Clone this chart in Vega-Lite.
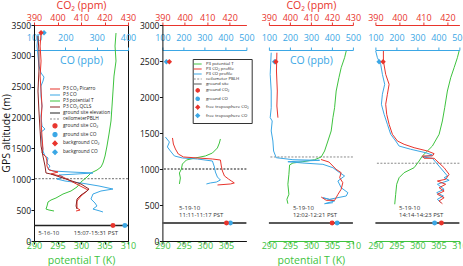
{
  "$schema": "https://vega.github.io/schema/vega-lite/v6.json",
  "background": "white",
  "padding": {"left": 0, "top": 0, "right": 0, "bottom": 0},
  "spacing": 2.4,
  "bounds": "full",
  "config": {
    "font": "Open Sans",
    "view": {"stroke": null},
    "axis": {"labelFont": "Open Sans", "titleFont": "Open Sans", "labelFontSize": 9, "titleFontSize": 10.5, "titleFontWeight": "normal", "grid": false, "labelFlush": false, "labelOverlap": false, "tickSize": 3, "domainWidth": 1, "tickWidth": 1, "labelColor": "#111", "titleColor": "#111", "domainColor": "#111", "tickColor": "#111"},
    "legend": {"labelFont": "Open Sans"},
    "text": {"font": "Open Sans"}
  },
  "resolve": {"scale": {"color": "independent", "shape": "independent", "strokeDash": "independent"}},
  "hconcat": [
    {
      "width": 94, "height": 216,
      "view": {"stroke": "#111", "strokeWidth": 1},
      "resolve": {"scale": {"x": "independent"}, "axis": {"x": "independent"}},
      "layer": [
        {
          "data": {"values": [{"s": "ground site elevation", "alt": 250}, {"s": "ceilometerPBLH", "alt": 1010}]},
          "mark": {"type": "rule", "strokeWidth": 1.4},
          "encoding": {
            "y": {"field": "alt", "type": "quantitative", "scale": {"domain": [0, 3500], "nice": false, "zero": false}, "axis": {"values": [0, 500, 1000, 1500, 2000, 2500, 3000, 3500], "tickCount": 20, "format": "d", "labelOverlap": false, "labelFontSize": 8.5, "title": "GPS altitude (m)", "titlePadding": 0, "labelPadding": 0.5}},
            "color": {"field": "s", "type": "nominal", "scale": {"domain": ["P3 CO₂ Picarro", "P3 CO", "P3 potential T", "P3 CO₂ QCLS", "ground site elevation", "ceilometerPBLH", "ground site CO₂", "ground site CO", "background CO₂", "background CO"], "range": ["#e8342c", "#3ba7e5", "#3ec33e", "#8c2424", "#222222", "#8a8a8a", "#e8342c", "#3ba7e5", "#e8342c", "#3ba7e5"]}, "legend": {"orient": "none", "legendX": 18, "legendY": 61, "title": null, "padding": 0, "labelFontSize": 4.8, "labelColor": "#222", "symbolSize": 16, "symbolStrokeWidth": 1.2, "rowPadding": -1.2, "labelOffset": 5}},
            "strokeDash": {"field": "s", "type": "nominal", "scale": {"domain": ["P3 CO₂ Picarro", "P3 CO", "P3 potential T", "P3 CO₂ QCLS", "ground site elevation", "ceilometerPBLH", "ground site CO₂", "ground site CO", "background CO₂", "background CO"], "range": [[1, 0], [1, 0], [1, 0], [1, 0], [1, 0], [2, 1.5], [1, 0], [1, 0], [1, 0], [1, 0]]}, "legend": {"orient": "none", "legendX": 18, "legendY": 61, "title": null, "padding": 0, "labelFontSize": 4.8, "labelColor": "#222", "symbolSize": 16, "symbolStrokeWidth": 1.2, "rowPadding": -1.2, "labelOffset": 5}}
          }
        },
        {
          "data": {"values": [
            {"s": "P3 potential T", "t": 307.45, "alt": 3370}, {"s": "P3 potential T", "t": 307.24, "alt": 3159}, {"s": "P3 potential T", "t": 307.45, "alt": 2916}, {"s": "P3 potential T", "t": 307.02, "alt": 2673}, {"s": "P3 potential T", "t": 306.81, "alt": 2430}, {"s": "P3 potential T", "t": 306.6, "alt": 2187}, {"s": "P3 potential T", "t": 306.38, "alt": 1944}, {"s": "P3 potential T", "t": 305.96, "alt": 1733}, {"s": "P3 potential T", "t": 305.53, "alt": 1539}, {"s": "P3 potential T", "t": 305.11, "alt": 1377}, {"s": "P3 potential T", "t": 304.68, "alt": 1264}, {"s": "P3 potential T", "t": 304.26, "alt": 1199}, {"s": "P3 potential T", "t": 303.41, "alt": 1150}, {"s": "P3 potential T", "t": 302.13, "alt": 1102}, {"s": "P3 potential T", "t": 301.28, "alt": 1037}, {"s": "P3 potential T", "t": 300.0, "alt": 956}, {"s": "P3 potential T", "t": 299.15, "alt": 875}, {"s": "P3 potential T", "t": 297.87, "alt": 810}, {"s": "P3 potential T", "t": 296.17, "alt": 761}, {"s": "P3 potential T", "t": 294.68, "alt": 697}, {"s": "P3 potential T", "t": 293.62, "alt": 664}, {"s": "P3 potential T", "t": 292.98, "alt": 632}, {"s": "P3 potential T", "t": 292.77, "alt": 567}, {"s": "P3 potential T", "t": 292.55, "alt": 518}, {"s": "P3 potential T", "t": 293.19, "alt": 502}, {"s": "P3 potential T", "t": 294.26, "alt": 486}
          ]},
          "layer": [
            {
              "mark": {"type": "line", "strokeWidth": 1},
              "encoding": {
                "x": {"field": "t", "type": "quantitative", "scale": {"domain": [290, 310], "nice": false, "zero": false}, "axis": {"orient": "bottom", "values": [290, 295, 300, 305, 310], "tickCount": 20, "format": "d", "labelOverlap": false, "title": "potential T (K)", "titleColor": "#3ec33e", "labelColor": "#3ec33e", "labelPadding": -2.6, "titlePadding": 5}},
                "y": {"field": "alt", "type": "quantitative"},
                "color": {"field": "s", "type": "nominal", "legend": {"orient": "none", "legendX": 18, "legendY": 61, "title": null, "padding": 0, "labelFontSize": 4.8, "labelColor": "#222", "symbolSize": 16, "symbolStrokeWidth": 1.2, "rowPadding": -1.2, "labelOffset": 5}},
                "order": {"value": null}
              }
            },
            {"data": {"values": [{}]}, "mark": {"type": "text", "text": "5-16-10", "align": "left", "baseline": "middle", "fontSize": 6, "color": "#333"}, "encoding": {"x": {"datum": 290.9}, "y": {"datum": 125}}},
            {"data": {"values": [{}]}, "mark": {"type": "text", "text": "15:07-15:31 PST", "align": "left", "baseline": "middle", "fontSize": 6, "color": "#333"}, "encoding": {"x": {"datum": 298.45}, "y": {"datum": 125}}}
          ]
        },
        {
          "layer": [
            {
              "data": {"values": [
                {"s": "P3 CO", "co": 112.8, "alt": 3353}, {"s": "P3 CO", "co": 109.6, "alt": 3159}, {"s": "P3 CO", "co": 112.8, "alt": 2997}, {"s": "P3 CO", "co": 116.0, "alt": 2835}, {"s": "P3 CO", "co": 122.3, "alt": 2722}, {"s": "P3 CO", "co": 131.9, "alt": 2657}, {"s": "P3 CO", "co": 128.7, "alt": 2592}, {"s": "P3 CO", "co": 122.3, "alt": 2511}, {"s": "P3 CO", "co": 122.3, "alt": 2349}, {"s": "P3 CO", "co": 125.5, "alt": 2187}, {"s": "P3 CO", "co": 122.3, "alt": 2025}, {"s": "P3 CO", "co": 125.5, "alt": 1863}, {"s": "P3 CO", "co": 135.1, "alt": 1814}, {"s": "P3 CO", "co": 122.3, "alt": 1766}, {"s": "P3 CO", "co": 125.5, "alt": 1620}, {"s": "P3 CO", "co": 128.7, "alt": 1458}, {"s": "P3 CO", "co": 135.1, "alt": 1377}, {"s": "P3 CO", "co": 144.7, "alt": 1345}, {"s": "P3 CO", "co": 141.5, "alt": 1264}, {"s": "P3 CO", "co": 151.0, "alt": 1215}, {"s": "P3 CO", "co": 144.7, "alt": 1166}, {"s": "P3 CO", "co": 160.6, "alt": 1134}, {"s": "P3 CO", "co": 218.0, "alt": 1118}, {"s": "P3 CO", "co": 288.2, "alt": 1102}, {"s": "P3 CO", "co": 234.0, "alt": 1085}, {"s": "P3 CO", "co": 179.8, "alt": 1069}, {"s": "P3 CO", "co": 192.5, "alt": 1037}, {"s": "P3 CO", "co": 173.4, "alt": 1004}, {"s": "P3 CO", "co": 198.9, "alt": 972}, {"s": "P3 CO", "co": 250.0, "alt": 940}, {"s": "P3 CO", "co": 307.4, "alt": 891}, {"s": "P3 CO", "co": 352.0, "alt": 842}, {"s": "P3 CO", "co": 313.7, "alt": 810}, {"s": "P3 CO", "co": 288.2, "alt": 761}, {"s": "P3 CO", "co": 281.8, "alt": 680}, {"s": "P3 CO", "co": 294.6, "alt": 616}, {"s": "P3 CO", "co": 301.0, "alt": 567}, {"s": "P3 CO", "co": 288.2, "alt": 518}, {"s": "P3 CO", "co": 310.5, "alt": 486}, {"s": "P3 CO", "co": 320.1, "alt": 470}
              ]},
              "mark": {"type": "line", "strokeWidth": 1},
              "encoding": {
                "x": {"field": "co", "type": "quantitative", "scale": {"domain": [100, 400], "nice": false, "zero": false}, "axis": {"orient": "top", "offset": -25, "values": [100, 200, 300, 400], "tickCount": 20, "format": "d", "labelOverlap": false, "title": "CO (ppb)", "titleY": 10.5, "titleBaseline": "middle", "titleColor": "#3ba7e5", "labelColor": "#3ba7e5", "domainColor": "#3ba7e5", "tickColor": "#3ba7e5", "labelPadding": 5}},
                "y": {"field": "alt", "type": "quantitative"},
                "color": {"field": "s", "type": "nominal", "legend": {"orient": "none", "legendX": 18, "legendY": 61, "title": null, "padding": 0, "labelFontSize": 4.8, "labelColor": "#222", "symbolSize": 16, "symbolStrokeWidth": 1.2, "rowPadding": -1.2, "labelOffset": 5}},
                "order": {"value": null}
              }
            },
            {
              "data": {"values": [{"s": "ground site CO", "co": 390, "alt": 250}, {"s": "background CO", "co": 132, "alt": 3375}]},
              "mark": {"type": "point", "filled": true, "size": 24, "opacity": 1},
              "encoding": {
                "x": {"field": "co", "type": "quantitative"},
                "y": {"field": "alt", "type": "quantitative"},
                "color": {"field": "s", "type": "nominal", "legend": {"orient": "none", "legendX": 18, "legendY": 61, "title": null, "padding": 0, "labelFontSize": 4.8, "labelColor": "#222", "symbolSize": 16, "symbolStrokeWidth": 1.2, "rowPadding": -1.2, "labelOffset": 5}},
                "shape": {"field": "s", "type": "nominal", "scale": {"domain": ["P3 CO₂ Picarro", "P3 CO", "P3 potential T", "P3 CO₂ QCLS", "ground site elevation", "ceilometerPBLH", "ground site CO₂", "ground site CO", "background CO₂", "background CO"], "range": ["M-2.5,0H2.5", "M-2.5,0H2.5", "M-2.5,0H2.5", "M-2.5,0H2.5", "M-2.5,0H2.5", "M-2.5,0H2.5", "circle", "circle", "M0,-1.1L1.1,0L0,1.1L-1.1,0Z", "M0,-1.1L1.1,0L0,1.1L-1.1,0Z"]}, "legend": {"orient": "none", "legendX": 18, "legendY": 61, "title": null, "padding": 0, "labelFontSize": 4.8, "labelColor": "#222", "symbolSize": 16, "symbolStrokeWidth": 1.2, "rowPadding": -1.2, "labelOffset": 5}}
              }
            }
          ]
        },
        {
          "layer": [
            {
              "data": {"values": [
                {"s": "P3 CO₂ Picarro", "co2": 393.0, "alt": 3370}, {"s": "P3 CO₂ Picarro", "co2": 392.6, "alt": 3159}, {"s": "P3 CO₂ Picarro", "co2": 393.0, "alt": 2916}, {"s": "P3 CO₂ Picarro", "co2": 392.6, "alt": 2673}, {"s": "P3 CO₂ Picarro", "co2": 393.0, "alt": 2430}, {"s": "P3 CO₂ Picarro", "co2": 393.4, "alt": 2187}, {"s": "P3 CO₂ Picarro", "co2": 393.0, "alt": 1944}, {"s": "P3 CO₂ Picarro", "co2": 393.4, "alt": 1701}, {"s": "P3 CO₂ Picarro", "co2": 393.8, "alt": 1490}, {"s": "P3 CO₂ Picarro", "co2": 393.4, "alt": 1426}, {"s": "P3 CO₂ Picarro", "co2": 395.1, "alt": 1361}, {"s": "P3 CO₂ Picarro", "co2": 395.5, "alt": 1296}, {"s": "P3 CO₂ Picarro", "co2": 395.5, "alt": 1215}, {"s": "P3 CO₂ Picarro", "co2": 396.4, "alt": 1150}, {"s": "P3 CO₂ Picarro", "co2": 400.2, "alt": 1118}, {"s": "P3 CO₂ Picarro", "co2": 397.2, "alt": 1085}, {"s": "P3 CO₂ Picarro", "co2": 401.5, "alt": 1053}, {"s": "P3 CO₂ Picarro", "co2": 413.0, "alt": 826}, {"s": "P3 CO₂ Picarro", "co2": 410.0, "alt": 729}, {"s": "P3 CO₂ Picarro", "co2": 408.3, "alt": 648}, {"s": "P3 CO₂ Picarro", "co2": 408.3, "alt": 535}, {"s": "P3 CO₂ Picarro", "co2": 409.6, "alt": 502}, {"s": "P3 CO₂ Picarro", "co2": 407.9, "alt": 486},
                {"s": "P3 CO₂ QCLS", "co2": 391.7, "alt": 3321}, {"s": "P3 CO₂ QCLS", "co2": 392.1, "alt": 3078}, {"s": "P3 CO₂ QCLS", "co2": 392.1, "alt": 2754}, {"s": "P3 CO₂ QCLS", "co2": 391.7, "alt": 2430}, {"s": "P3 CO₂ QCLS", "co2": 392.1, "alt": 2106}, {"s": "P3 CO₂ QCLS", "co2": 392.6, "alt": 1782}, {"s": "P3 CO₂ QCLS", "co2": 393.0, "alt": 1539}, {"s": "P3 CO₂ QCLS", "co2": 393.8, "alt": 1377}, {"s": "P3 CO₂ QCLS", "co2": 394.7, "alt": 1215}, {"s": "P3 CO₂ QCLS", "co2": 395.1, "alt": 1102}, {"s": "P3 CO₂ QCLS", "co2": 397.2, "alt": 1085}, {"s": "P3 CO₂ QCLS", "co2": 403.6, "alt": 1004}, {"s": "P3 CO₂ QCLS", "co2": 410.0, "alt": 923}, {"s": "P3 CO₂ QCLS", "co2": 413.4, "alt": 842}, {"s": "P3 CO₂ QCLS", "co2": 412.6, "alt": 810}, {"s": "P3 CO₂ QCLS", "co2": 410.0, "alt": 745}, {"s": "P3 CO₂ QCLS", "co2": 408.3, "alt": 680}, {"s": "P3 CO₂ QCLS", "co2": 407.9, "alt": 567}, {"s": "P3 CO₂ QCLS", "co2": 408.3, "alt": 518}
              ]},
              "mark": {"type": "line", "strokeWidth": 1},
              "encoding": {
                "x": {"field": "co2", "type": "quantitative", "scale": {"domain": [390, 430], "nice": false, "zero": false}, "axis": {"orient": "top", "values": [390, 400, 410, 420, 430], "tickCount": 20, "format": "d", "labelOverlap": false, "title": "CO₂ (ppm)", "titleColor": "#e8342c", "labelColor": "#e8342c", "domainColor": "#e8342c", "tickColor": "#e8342c", "labelPadding": -0.5, "titlePadding": 3}},
                "y": {"field": "alt", "type": "quantitative"},
                "color": {"field": "s", "type": "nominal", "legend": {"orient": "none", "legendX": 18, "legendY": 61, "title": null, "padding": 0, "labelFontSize": 4.8, "labelColor": "#222", "symbolSize": 16, "symbolStrokeWidth": 1.2, "rowPadding": -1.2, "labelOffset": 5}},
                "order": {"value": null}
              }
            },
            {
              "data": {"values": [{"s": "ground site CO₂", "co2": 423.6, "alt": 250}, {"s": "background CO₂", "co2": 393.0, "alt": 3375}]},
              "mark": {"type": "point", "filled": true, "size": 24, "opacity": 1},
              "encoding": {
                "x": {"field": "co2", "type": "quantitative"},
                "y": {"field": "alt", "type": "quantitative"},
                "color": {"field": "s", "type": "nominal", "legend": {"orient": "none", "legendX": 18, "legendY": 61, "title": null, "padding": 0, "labelFontSize": 4.8, "labelColor": "#222", "symbolSize": 16, "symbolStrokeWidth": 1.2, "rowPadding": -1.2, "labelOffset": 5}},
                "shape": {"field": "s", "type": "nominal", "legend": {"orient": "none", "legendX": 18, "legendY": 61, "title": null, "padding": 0, "labelFontSize": 4.8, "labelColor": "#222", "symbolSize": 16, "symbolStrokeWidth": 1.2, "rowPadding": -1.2, "labelOffset": 5}}
              }
            }
          ]
        }
      ]
    },
    {
      "spacing": 22.5,
      "bounds": "flush",
      "resolve": {"scale": {"color": "independent", "shape": "independent", "strokeDash": "independent"}},
      "hconcat": [
        {
          "width": 84, "height": 216,
          "resolve": {"scale": {"x": "independent"}, "axis": {"x": "independent"}},
          "layer": [
            {
              "data": {"values": [{"s": "ground site", "alt": 250}, {"s": "ceilometer PBLH", "alt": 1000}]},
              "mark": {"type": "rule", "strokeWidth": 1.8},
              "encoding": {
                "y": {"field": "alt", "type": "quantitative", "scale": {"domain": [0, 3000], "nice": false, "zero": false}, "axis": {"values": [0, 500, 1000, 1500, 2000, 2500, 3000], "tickCount": 20, "format": "d", "labelOverlap": false, "labelFontSize": 8.5, "title": null, "labelPadding": 0.5}},
                "color": {"field": "s", "type": "nominal", "scale": {"domain": ["P3 potential T", "P3 CO₂ profile", "P3 CO profile", "ceilometer PBLH", "ground site", "ground CO₂", "ground CO", "free troposphere CO₂", "free troposphere CO"], "range": ["#3ec33e", "#e8342c", "#3ba7e5", "#8a8a8a", "#555555", "#e8342c", "#3ba7e5", "#e8342c", "#3ba7e5"]}, "legend": {"orient": "none", "legendX": 30.3, "legendY": 34, "title": null, "padding": 2.5, "strokeColor": "#333", "fillColor": "white", "labelFontSize": 4.3, "labelColor": "#222", "symbolSize": 12, "symbolStrokeWidth": 1.1, "rowPadding": -0.6, "labelOffset": 5.8}},
                "strokeDash": {"field": "s", "type": "nominal", "scale": {"domain": ["P3 potential T", "P3 CO₂ profile", "P3 CO profile", "ceilometer PBLH", "ground site", "ground CO₂", "ground CO", "free troposphere CO₂", "free troposphere CO"], "range": [[1, 0], [1, 0], [1, 0], [2, 1.5], [1, 0], [1, 0], [1, 0], [1, 0], [1, 0]]}, "legend": {"orient": "none", "legendX": 30.3, "legendY": 34, "title": null, "padding": 2.5, "strokeColor": "#333", "fillColor": "white", "labelFontSize": 4.3, "labelColor": "#222", "symbolSize": 12, "symbolStrokeWidth": 1.1, "rowPadding": -0.6, "labelOffset": 5.8}}
              }
            },
            {
              "data": {"values": [
                {"s": "P3 potential T", "t": 303.67, "alt": 1417}, {"s": "P3 potential T", "t": 303.43, "alt": 1361}, {"s": "P3 potential T", "t": 302.96, "alt": 1292}, {"s": "P3 potential T", "t": 301.79, "alt": 1222}, {"s": "P3 potential T", "t": 300.14, "alt": 1181}, {"s": "P3 potential T", "t": 297.78, "alt": 1153}, {"s": "P3 potential T", "t": 295.66, "alt": 1125}, {"s": "P3 potential T", "t": 294.71, "alt": 1069}, {"s": "P3 potential T", "t": 294.48, "alt": 1000}, {"s": "P3 potential T", "t": 294.01, "alt": 944}, {"s": "P3 potential T", "t": 294.24, "alt": 875}, {"s": "P3 potential T", "t": 294.01, "alt": 792}
              ]},
              "layer": [
                {
                  "mark": {"type": "line", "strokeWidth": 1},
                  "encoding": {
                    "x": {"field": "t", "type": "quantitative", "scale": {"domain": [290, 309.8], "nice": false, "zero": false}, "axis": {"orient": "bottom", "values": [290, 295, 300, 305], "tickCount": 20, "format": "d", "labelOverlap": false, "title": null, "labelColor": "#3ec33e", "labelPadding": -2.6}},
                    "y": {"field": "alt", "type": "quantitative"},
                    "color": {"field": "s", "type": "nominal", "legend": {"orient": "none", "legendX": 30.3, "legendY": 34, "title": null, "padding": 2.5, "strokeColor": "#333", "fillColor": "white", "labelFontSize": 4.3, "labelColor": "#222", "symbolSize": 12, "symbolStrokeWidth": 1.1, "rowPadding": -0.6, "labelOffset": 5.8}},
                    "order": {"value": null}
                  }
                },
                {"data": {"values": [{}]}, "mark": {"type": "text", "text": ["5-19-10", "11:11-11:17 PST"], "align": "left", "baseline": "top", "lineHeight": 7.3, "fontSize": 6, "color": "#333"}, "encoding": {"x": {"datum": 293.94}, "y": {"datum": 504}}}
              ]
            },
            {
              "layer": [
                {
                  "data": {"values": [
                    {"s": "P3 CO profile", "co": 114.3, "alt": 1444}, {"s": "P3 CO profile", "co": 133.3, "alt": 1375}, {"s": "P3 CO profile", "co": 123.8, "alt": 1306}, {"s": "P3 CO profile", "co": 138.1, "alt": 1250}, {"s": "P3 CO profile", "co": 157.1, "alt": 1181}, {"s": "P3 CO profile", "co": 195.2, "alt": 1153}, {"s": "P3 CO profile", "co": 266.7, "alt": 1139}, {"s": "P3 CO profile", "co": 338.1, "alt": 1111}, {"s": "P3 CO profile", "co": 347.6, "alt": 1028}, {"s": "P3 CO profile", "co": 352.4, "alt": 958}, {"s": "P3 CO profile", "co": 361.9, "alt": 889}, {"s": "P3 CO profile", "co": 376.2, "alt": 847}, {"s": "P3 CO profile", "co": 357.1, "alt": 819}, {"s": "P3 CO profile", "co": 328.6, "alt": 806}, {"s": "P3 CO profile", "co": 309.5, "alt": 792}
                  ]},
                  "mark": {"type": "line", "strokeWidth": 1},
                  "encoding": {
                    "x": {"field": "co", "type": "quantitative", "scale": {"domain": [100, 500], "nice": false, "zero": false}, "axis": {"orient": "top", "offset": -25, "values": [100, 200, 300, 400, 500], "tickCount": 20, "format": "d", "labelOverlap": false, "title": null, "labelColor": "#3ba7e5", "domainColor": "#3ba7e5", "tickColor": "#3ba7e5", "labelPadding": 5}},
                    "y": {"field": "alt", "type": "quantitative"},
                    "color": {"field": "s", "type": "nominal", "legend": {"orient": "none", "legendX": 30.3, "legendY": 34, "title": null, "padding": 2.5, "strokeColor": "#333", "fillColor": "white", "labelFontSize": 4.3, "labelColor": "#222", "symbolSize": 12, "symbolStrokeWidth": 1.1, "rowPadding": -0.6, "labelOffset": 5.8}},
                    "order": {"value": null}
                  }
                },
                {
                  "data": {"values": [{"s": "ground CO", "co": 424, "alt": 250}, {"s": "free troposphere CO", "co": 119, "alt": 2490}]},
                  "mark": {"type": "point", "filled": true, "size": 24, "opacity": 1},
                  "encoding": {
                    "x": {"field": "co", "type": "quantitative"},
                    "y": {"field": "alt", "type": "quantitative"},
                    "color": {"field": "s", "type": "nominal", "legend": {"orient": "none", "legendX": 30.3, "legendY": 34, "title": null, "padding": 2.5, "strokeColor": "#333", "fillColor": "white", "labelFontSize": 4.3, "labelColor": "#222", "symbolSize": 12, "symbolStrokeWidth": 1.1, "rowPadding": -0.6, "labelOffset": 5.8}},
                    "shape": {"field": "s", "type": "nominal", "scale": {"domain": ["P3 potential T", "P3 CO₂ profile", "P3 CO profile", "ceilometer PBLH", "ground site", "ground CO₂", "ground CO", "free troposphere CO₂", "free troposphere CO"], "range": ["M-2.3,0H2.3", "M-2.3,0H2.3", "M-2.3,0H2.3", "M-2.3,0H2.3", "M-2.3,0H2.3", "circle", "circle", "M0,-1.1L1.1,0L0,1.1L-1.1,0Z", "M0,-1.1L1.1,0L0,1.1L-1.1,0Z"]}, "legend": {"orient": "none", "legendX": 30.3, "legendY": 34, "title": null, "padding": 2.5, "strokeColor": "#333", "fillColor": "white", "labelFontSize": 4.3, "labelColor": "#222", "symbolSize": 12, "symbolStrokeWidth": 1.1, "rowPadding": -0.6, "labelOffset": 5.8}}
                  }
                }
              ]
            },
            {
              "layer": [
                {
                  "data": {"values": [
                    {"s": "P3 CO₂ profile", "co2": 394.5, "alt": 1431}, {"s": "P3 CO₂ profile", "co2": 394.9, "alt": 1347}, {"s": "P3 CO₂ profile", "co2": 395.8, "alt": 1278}, {"s": "P3 CO₂ profile", "co2": 397.1, "alt": 1208}, {"s": "P3 CO₂ profile", "co2": 399.4, "alt": 1167}, {"s": "P3 CO₂ profile", "co2": 405.6, "alt": 1153}, {"s": "P3 CO₂ profile", "co2": 412.3, "alt": 1139}, {"s": "P3 CO₂ profile", "co2": 415.9, "alt": 1125}, {"s": "P3 CO₂ profile", "co2": 416.3, "alt": 1042}, {"s": "P3 CO₂ profile", "co2": 416.8, "alt": 972}, {"s": "P3 CO₂ profile", "co2": 417.7, "alt": 903}, {"s": "P3 CO₂ profile", "co2": 419.5, "alt": 861}, {"s": "P3 CO₂ profile", "co2": 420.8, "alt": 833}, {"s": "P3 CO₂ profile", "co2": 422.1, "alt": 806}, {"s": "P3 CO₂ profile", "co2": 420.4, "alt": 792}, {"s": "P3 CO₂ profile", "co2": 414.6, "alt": 778}
                  ]},
                  "mark": {"type": "line", "strokeWidth": 1},
                  "encoding": {
                    "x": {"field": "co2", "type": "quantitative", "scale": {"domain": [390, 427.5], "nice": false, "zero": false}, "axis": {"orient": "top", "values": [390, 400, 410, 420], "tickCount": 20, "format": "d", "labelOverlap": false, "title": null, "labelColor": "#e8342c", "domainColor": "#e8342c", "tickColor": "#e8342c", "labelPadding": -0.5}},
                    "y": {"field": "alt", "type": "quantitative"},
                    "color": {"field": "s", "type": "nominal", "legend": {"orient": "none", "legendX": 30.3, "legendY": 34, "title": null, "padding": 2.5, "strokeColor": "#333", "fillColor": "white", "labelFontSize": 4.3, "labelColor": "#222", "symbolSize": 12, "symbolStrokeWidth": 1.1, "rowPadding": -0.6, "labelOffset": 5.8}},
                    "order": {"value": null}
                  }
                },
                {
                  "data": {"values": [{"s": "ground CO₂", "co2": 418.6, "alt": 250}, {"s": "free troposphere CO₂", "co2": 393.1, "alt": 2490}]},
                  "mark": {"type": "point", "filled": true, "size": 24, "opacity": 1},
                  "encoding": {
                    "x": {"field": "co2", "type": "quantitative"},
                    "y": {"field": "alt", "type": "quantitative"},
                    "color": {"field": "s", "type": "nominal", "legend": {"orient": "none", "legendX": 30.3, "legendY": 34, "title": null, "padding": 2.5, "strokeColor": "#333", "fillColor": "white", "labelFontSize": 4.3, "labelColor": "#222", "symbolSize": 12, "symbolStrokeWidth": 1.1, "rowPadding": -0.6, "labelOffset": 5.8}},
                    "shape": {"field": "s", "type": "nominal", "legend": {"orient": "none", "legendX": 30.3, "legendY": 34, "title": null, "padding": 2.5, "strokeColor": "#333", "fillColor": "white", "labelFontSize": 4.3, "labelColor": "#222", "symbolSize": 12, "symbolStrokeWidth": 1.1, "rowPadding": -0.6, "labelOffset": 5.8}}
                  }
                }
              ]
            }
          ]
        },
        {
          "width": 84, "height": 216,
          "resolve": {"scale": {"x": "independent"}, "axis": {"x": "independent"}},
          "layer": [
            {"data": {"values": [{"s": "ground site", "alt": 250}]}, "mark": {"type": "rule", "color": "#5a5a5a", "strokeWidth": 2}, "encoding": {"y": {"field": "alt", "type": "quantitative", "scale": {"domain": [0, 3000], "nice": false, "zero": false}, "axis": null}}},
            {"data": {"values": [{"s": "ceilometer PBLH", "alt": 1167}]}, "mark": {"type": "rule", "color": "#8a8a8a", "strokeDash": [2, 1.5], "strokeWidth": 1}, "encoding": {"y": {"field": "alt", "type": "quantitative", "axis": null}}},
            {
              "data": {"values": [
                {"t": 308.41, "alt": 2639}, {"t": 308.02, "alt": 2546}, {"t": 307.21, "alt": 2407}, {"t": 306.67, "alt": 2268}, {"t": 306.02, "alt": 2083}, {"t": 305.64, "alt": 1851}, {"t": 305.24, "alt": 1713}, {"t": 304.83, "alt": 1528}, {"t": 304.05, "alt": 1389}, {"t": 303.26, "alt": 1250}, {"t": 302.45, "alt": 1167}, {"t": 300.88, "alt": 1129}, {"t": 298.1, "alt": 1101}, {"t": 295.71, "alt": 1083}, {"t": 294.93, "alt": 1056}, {"t": 294.76, "alt": 926}, {"t": 294.52, "alt": 788}, {"t": 294.76, "alt": 649}, {"t": 294.29, "alt": 579}, {"t": 294.52, "alt": 518}
              ]},
              "layer": [
                {
                  "mark": {"type": "line", "strokeWidth": 1, "color": "#3ec33e"},
                  "encoding": {
                    "x": {"field": "t", "type": "quantitative", "scale": {"domain": [290, 310], "nice": false, "zero": false}, "axis": {"orient": "bottom", "values": [290, 295, 300, 305, 310], "tickCount": 20, "format": "d", "labelOverlap": false, "title": "potential T (K)", "titleColor": "#3ec33e", "labelColor": "#3ec33e", "domainColor": "#3ec33e", "tickColor": "#3ec33e", "labelPadding": -2.6, "titlePadding": 5}},
                    "y": {"field": "alt", "type": "quantitative", "axis": null},
                    "order": {"value": null}
                  }
                },
                {"data": {"values": [{}]}, "mark": {"type": "text", "text": ["5-19-10", "12:02-12:21 PST"], "align": "left", "baseline": "top", "lineHeight": 7.3, "fontSize": 6, "color": "#333"}, "encoding": {"x": {"datum": 295.71}, "y": {"datum": 504, "axis": null}}}
              ]
            },
            {
              "layer": [
                {
                  "data": {"values": [
                    {"co": 111.0, "alt": 2615}, {"co": 106.2, "alt": 2315}, {"co": 111.0, "alt": 2083}, {"co": 111.0, "alt": 1851}, {"co": 106.2, "alt": 1713}, {"co": 115.7, "alt": 1667}, {"co": 111.0, "alt": 1528}, {"co": 119.0, "alt": 1389}, {"co": 122.4, "alt": 1250}, {"co": 134.8, "alt": 1157}, {"co": 214.3, "alt": 1129}, {"co": 341.4, "alt": 1121}, {"co": 190.5, "alt": 1101}, {"co": 261.9, "alt": 1083}, {"co": 357.1, "alt": 1065}, {"co": 404.8, "alt": 1018}, {"co": 436.7, "alt": 949}, {"co": 460.5, "alt": 903}, {"co": 428.6, "alt": 833}, {"co": 444.3, "alt": 740}, {"co": 476.2, "alt": 671}, {"co": 468.1, "alt": 625}, {"co": 389.0, "alt": 579}, {"co": 357.1, "alt": 601}, {"co": 412.9, "alt": 556}, {"co": 365.2, "alt": 518}, {"co": 404.8, "alt": 532}
                  ]},
                  "mark": {"type": "line", "strokeWidth": 1, "color": "#3ba7e5"},
                  "encoding": {
                    "x": {"field": "co", "type": "quantitative", "scale": {"domain": [100, 500], "nice": false, "zero": false}, "axis": {"orient": "top", "offset": -25, "values": [100, 200, 300, 400, 500], "tickCount": 20, "format": "d", "labelOverlap": false, "title": "CO (ppb)", "titleY": 10.5, "titleBaseline": "middle", "titleColor": "#3ba7e5", "labelColor": "#3ba7e5", "domainColor": "#3ba7e5", "tickColor": "#3ba7e5", "labelPadding": 5}},
                    "y": {"field": "alt", "type": "quantitative", "axis": null},
                    "order": {"value": null}
                  }
                },
                {"data": {"values": [{"co": 425, "alt": 250}]}, "mark": {"type": "point", "filled": true, "size": 24, "opacity": 1, "shape": "circle", "color": "#3ba7e5"}, "encoding": {"x": {"field": "co", "type": "quantitative"}, "y": {"field": "alt", "type": "quantitative", "axis": null}}},
                {"data": {"values": [{"co": 127, "alt": 2490}]}, "mark": {"type": "point", "filled": true, "size": 24, "opacity": 1, "shape": "M0,-1.1L1.1,0L0,1.1L-1.1,0Z", "color": "#3ba7e5"}, "encoding": {"x": {"field": "co", "type": "quantitative"}, "y": {"field": "alt", "type": "quantitative", "axis": null}}}
              ]
            },
            {
              "layer": [
                {
                  "data": {"values": [
                    {"seg": "a", "co2": 393.8, "alt": 2615}, {"seg": "a", "co2": 393.6, "alt": 2361}, {"seg": "a", "co2": 394.0, "alt": 2083}, {"seg": "a", "co2": 393.8, "alt": 1875}, {"seg": "a", "co2": 394.3, "alt": 1713},
                    {"seg": "b", "co2": 414.8, "alt": 1132}, {"seg": "b", "co2": 418.6, "alt": 1097}, {"seg": "b", "co2": 422.0, "alt": 996}, {"seg": "b", "co2": 424.4, "alt": 949}, {"seg": "b", "co2": 423.7, "alt": 879}, {"seg": "b", "co2": 425.2, "alt": 810}, {"seg": "b", "co2": 424.4, "alt": 718}, {"seg": "b", "co2": 422.9, "alt": 649}, {"seg": "b", "co2": 422.0, "alt": 601}, {"seg": "b", "co2": 421.3, "alt": 565}, {"seg": "b", "co2": 417.3, "alt": 565}, {"seg": "b", "co2": 414.9, "alt": 611}
                  ]},
                  "mark": {"type": "line", "strokeWidth": 1, "color": "#e8342c"},
                  "encoding": {
                    "x": {"field": "co2", "type": "quantitative", "scale": {"domain": [390, 430], "nice": false, "zero": false}, "axis": {"orient": "top", "values": [390, 400, 410, 420, 430], "tickCount": 20, "format": "d", "labelOverlap": false, "title": "CO₂ (ppm)", "titleColor": "#e8342c", "labelColor": "#e8342c", "domainColor": "#e8342c", "tickColor": "#e8342c", "labelPadding": -0.5, "titlePadding": 3}},
                    "y": {"field": "alt", "type": "quantitative", "axis": null},
                    "detail": {"field": "seg", "type": "nominal"},
                    "order": {"value": null}
                  }
                },
                {"data": {"values": [{"co2": 420.1, "alt": 250}]}, "mark": {"type": "point", "filled": true, "size": 24, "opacity": 1, "shape": "circle", "color": "#e8342c"}, "encoding": {"x": {"field": "co2", "type": "quantitative"}, "y": {"field": "alt", "type": "quantitative", "axis": null}}},
                {"data": {"values": [{"co2": 393.3, "alt": 2490}]}, "mark": {"type": "point", "filled": true, "size": 24, "opacity": 1, "shape": "M0,-1.1L1.1,0L0,1.1L-1.1,0Z", "color": "#e8342c"}, "encoding": {"x": {"field": "co2", "type": "quantitative"}, "y": {"field": "alt", "type": "quantitative", "axis": null}}}
              ]
            }
          ]
        },
        {
          "width": 84, "height": 216,
          "resolve": {"scale": {"x": "independent"}, "axis": {"x": "independent"}},
          "layer": [
            {"data": {"values": [{"s": "ground site", "alt": 250}]}, "mark": {"type": "rule", "color": "#5a5a5a", "strokeWidth": 2}, "encoding": {"y": {"field": "alt", "type": "quantitative", "scale": {"domain": [0, 3000], "nice": false, "zero": false}, "axis": null}}},
            {"data": {"values": [{"s": "ceilometer PBLH", "alt": 1080}]}, "mark": {"type": "rule", "color": "#8a8a8a", "strokeDash": [2, 1.5], "strokeWidth": 1}, "encoding": {"y": {"field": "alt", "type": "quantitative", "axis": null}}},
            {
              "data": {"values": [
                {"t": 309.93, "alt": 2639}, {"t": 309.52, "alt": 2546}, {"t": 308.74, "alt": 2407}, {"t": 307.93, "alt": 2268}, {"t": 307.14, "alt": 2083}, {"t": 306.5, "alt": 1851}, {"t": 305.95, "alt": 1667}, {"t": 305.17, "alt": 1482}, {"t": 303.57, "alt": 1319}, {"t": 302.38, "alt": 1250}, {"t": 301.19, "alt": 1181}, {"t": 300.4, "alt": 1111}, {"t": 299.21, "alt": 1018}, {"t": 296.83, "alt": 949}, {"t": 295.64, "alt": 879}, {"t": 295.07, "alt": 788}, {"t": 294.83, "alt": 649}, {"t": 294.6, "alt": 510}
              ]},
              "layer": [
                {
                  "mark": {"type": "line", "strokeWidth": 1, "color": "#3ec33e"},
                  "encoding": {
                    "x": {"field": "t", "type": "quantitative", "scale": {"domain": [290, 310], "nice": false, "zero": false}, "axis": {"orient": "bottom", "values": [290, 295, 300, 305, 310], "tickCount": 20, "format": "d", "labelOverlap": false, "title": null, "labelColor": "#3ec33e", "domainColor": "#3ec33e", "tickColor": "#3ec33e", "labelPadding": -2.6}},
                    "y": {"field": "alt", "type": "quantitative", "axis": null},
                    "order": {"value": null}
                  }
                },
                {"data": {"values": [{}]}, "mark": {"type": "text", "text": ["5-19-10", "14:14-14:23 PST"], "align": "left", "baseline": "top", "lineHeight": 7.3, "fontSize": 6, "color": "#333"}, "encoding": {"x": {"datum": 295.64}, "y": {"datum": 504, "axis": null}}}
              ]
            },
            {
              "layer": [
                {
                  "data": {"values": [
                    {"co": 101.4, "alt": 2639}, {"co": 109.5, "alt": 2546}, {"co": 125.2, "alt": 2454}, {"co": 133.3, "alt": 2315}, {"co": 144.3, "alt": 2176}, {"co": 133.3, "alt": 2038}, {"co": 128.6, "alt": 1899}, {"co": 141.4, "alt": 1760}, {"co": 157.1, "alt": 1621}, {"co": 172.9, "alt": 1482}, {"co": 196.7, "alt": 1389}, {"co": 212.9, "alt": 1319}, {"co": 268.1, "alt": 1274}, {"co": 339.5, "alt": 1226}, {"co": 371.4, "alt": 1194}, {"co": 323.8, "alt": 1167}, {"co": 371.4, "alt": 1149}, {"co": 442.9, "alt": 903}, {"co": 427.1, "alt": 879}, {"co": 451.0, "alt": 843}, {"co": 395.2, "alt": 788}, {"co": 427.1, "alt": 718}, {"co": 391.9, "alt": 671}, {"co": 423.8, "alt": 625}, {"co": 395.2, "alt": 579}, {"co": 411.0, "alt": 532}
                  ]},
                  "mark": {"type": "line", "strokeWidth": 1, "color": "#3ba7e5"},
                  "encoding": {
                    "x": {"field": "co", "type": "quantitative", "scale": {"domain": [100, 500], "nice": false, "zero": false}, "axis": {"orient": "top", "offset": -25, "values": [100, 200, 300, 400, 500], "tickCount": 20, "format": "d", "labelOverlap": false, "title": null, "labelColor": "#3ba7e5", "domainColor": "#3ba7e5", "tickColor": "#3ba7e5", "labelPadding": 5}},
                    "y": {"field": "alt", "type": "quantitative", "axis": null},
                    "order": {"value": null}
                  }
                },
                {"data": {"values": [{"co": 382, "alt": 250}]}, "mark": {"type": "point", "filled": true, "size": 24, "opacity": 1, "shape": "circle", "color": "#3ba7e5"}, "encoding": {"x": {"field": "co", "type": "quantitative"}, "y": {"field": "alt", "type": "quantitative", "axis": null}}},
                {"data": {"values": [{"co": 117.6, "alt": 2490}]}, "mark": {"type": "point", "filled": true, "size": 24, "opacity": 1, "shape": "M0,-1.1L1.1,0L0,1.1L-1.1,0Z", "color": "#3ba7e5"}, "encoding": {"x": {"field": "co", "type": "quantitative"}, "y": {"field": "alt", "type": "quantitative", "axis": null}}}
              ]
            },
            {
              "layer": [
                {
                  "data": {"values": [
                    {"co2": 393.33, "alt": 2639}, {"co2": 393.33, "alt": 2500}, {"co2": 394.29, "alt": 2315}, {"co2": 395.71, "alt": 2176}, {"co2": 395.0, "alt": 2038}, {"co2": 394.29, "alt": 1899}, {"co2": 394.71, "alt": 1760}, {"co2": 395.71, "alt": 1621}, {"co2": 397.08, "alt": 1482}, {"co2": 399.17, "alt": 1389}, {"co2": 401.96, "alt": 1343}, {"co2": 406.13, "alt": 1296}, {"co2": 411.67, "alt": 1250}, {"co2": 414.46, "alt": 1213}, {"co2": 413.75, "alt": 1181}, {"co2": 409.58, "alt": 1181}, {"co2": 410.29, "alt": 1149}, {"co2": 414.46, "alt": 1149}, {"co2": 418.63, "alt": 1018}, {"co2": 420.71, "alt": 926}, {"co2": 419.29, "alt": 857}, {"co2": 415.83, "alt": 833}, {"co2": 419.29, "alt": 788}, {"co2": 416.54, "alt": 740}, {"co2": 418.63, "alt": 694}, {"co2": 415.83, "alt": 649}, {"co2": 418.63, "alt": 601}, {"co2": 416.54, "alt": 556}, {"co2": 417.92, "alt": 518}
                  ]},
                  "mark": {"type": "line", "strokeWidth": 1, "color": "#e8342c"},
                  "encoding": {
                    "x": {"field": "co2", "type": "quantitative", "scale": {"domain": [390, 425], "nice": false, "zero": false}, "axis": {"orient": "top", "values": [390, 400, 410, 420], "tickCount": 20, "format": "d", "labelOverlap": false, "title": null, "labelColor": "#e8342c", "domainColor": "#e8342c", "tickColor": "#e8342c", "labelPadding": -0.5}},
                    "y": {"field": "alt", "type": "quantitative", "axis": null},
                    "order": {"value": null}
                  }
                },
                {"data": {"values": [{"co2": 417.5, "alt": 250}]}, "mark": {"type": "point", "filled": true, "size": 24, "opacity": 1, "shape": "circle", "color": "#e8342c"}, "encoding": {"x": {"field": "co2", "type": "quantitative"}, "y": {"field": "alt", "type": "quantitative", "axis": null}}},
                {"data": {"values": [{"co2": 393.2, "alt": 2490}]}, "mark": {"type": "point", "filled": true, "size": 24, "opacity": 1, "shape": "M0,-1.1L1.1,0L0,1.1L-1.1,0Z", "color": "#e8342c"}, "encoding": {"x": {"field": "co2", "type": "quantitative"}, "y": {"field": "alt", "type": "quantitative", "axis": null}}}
              ]
            }
          ]
        }
      ]
    }
  ]
}
